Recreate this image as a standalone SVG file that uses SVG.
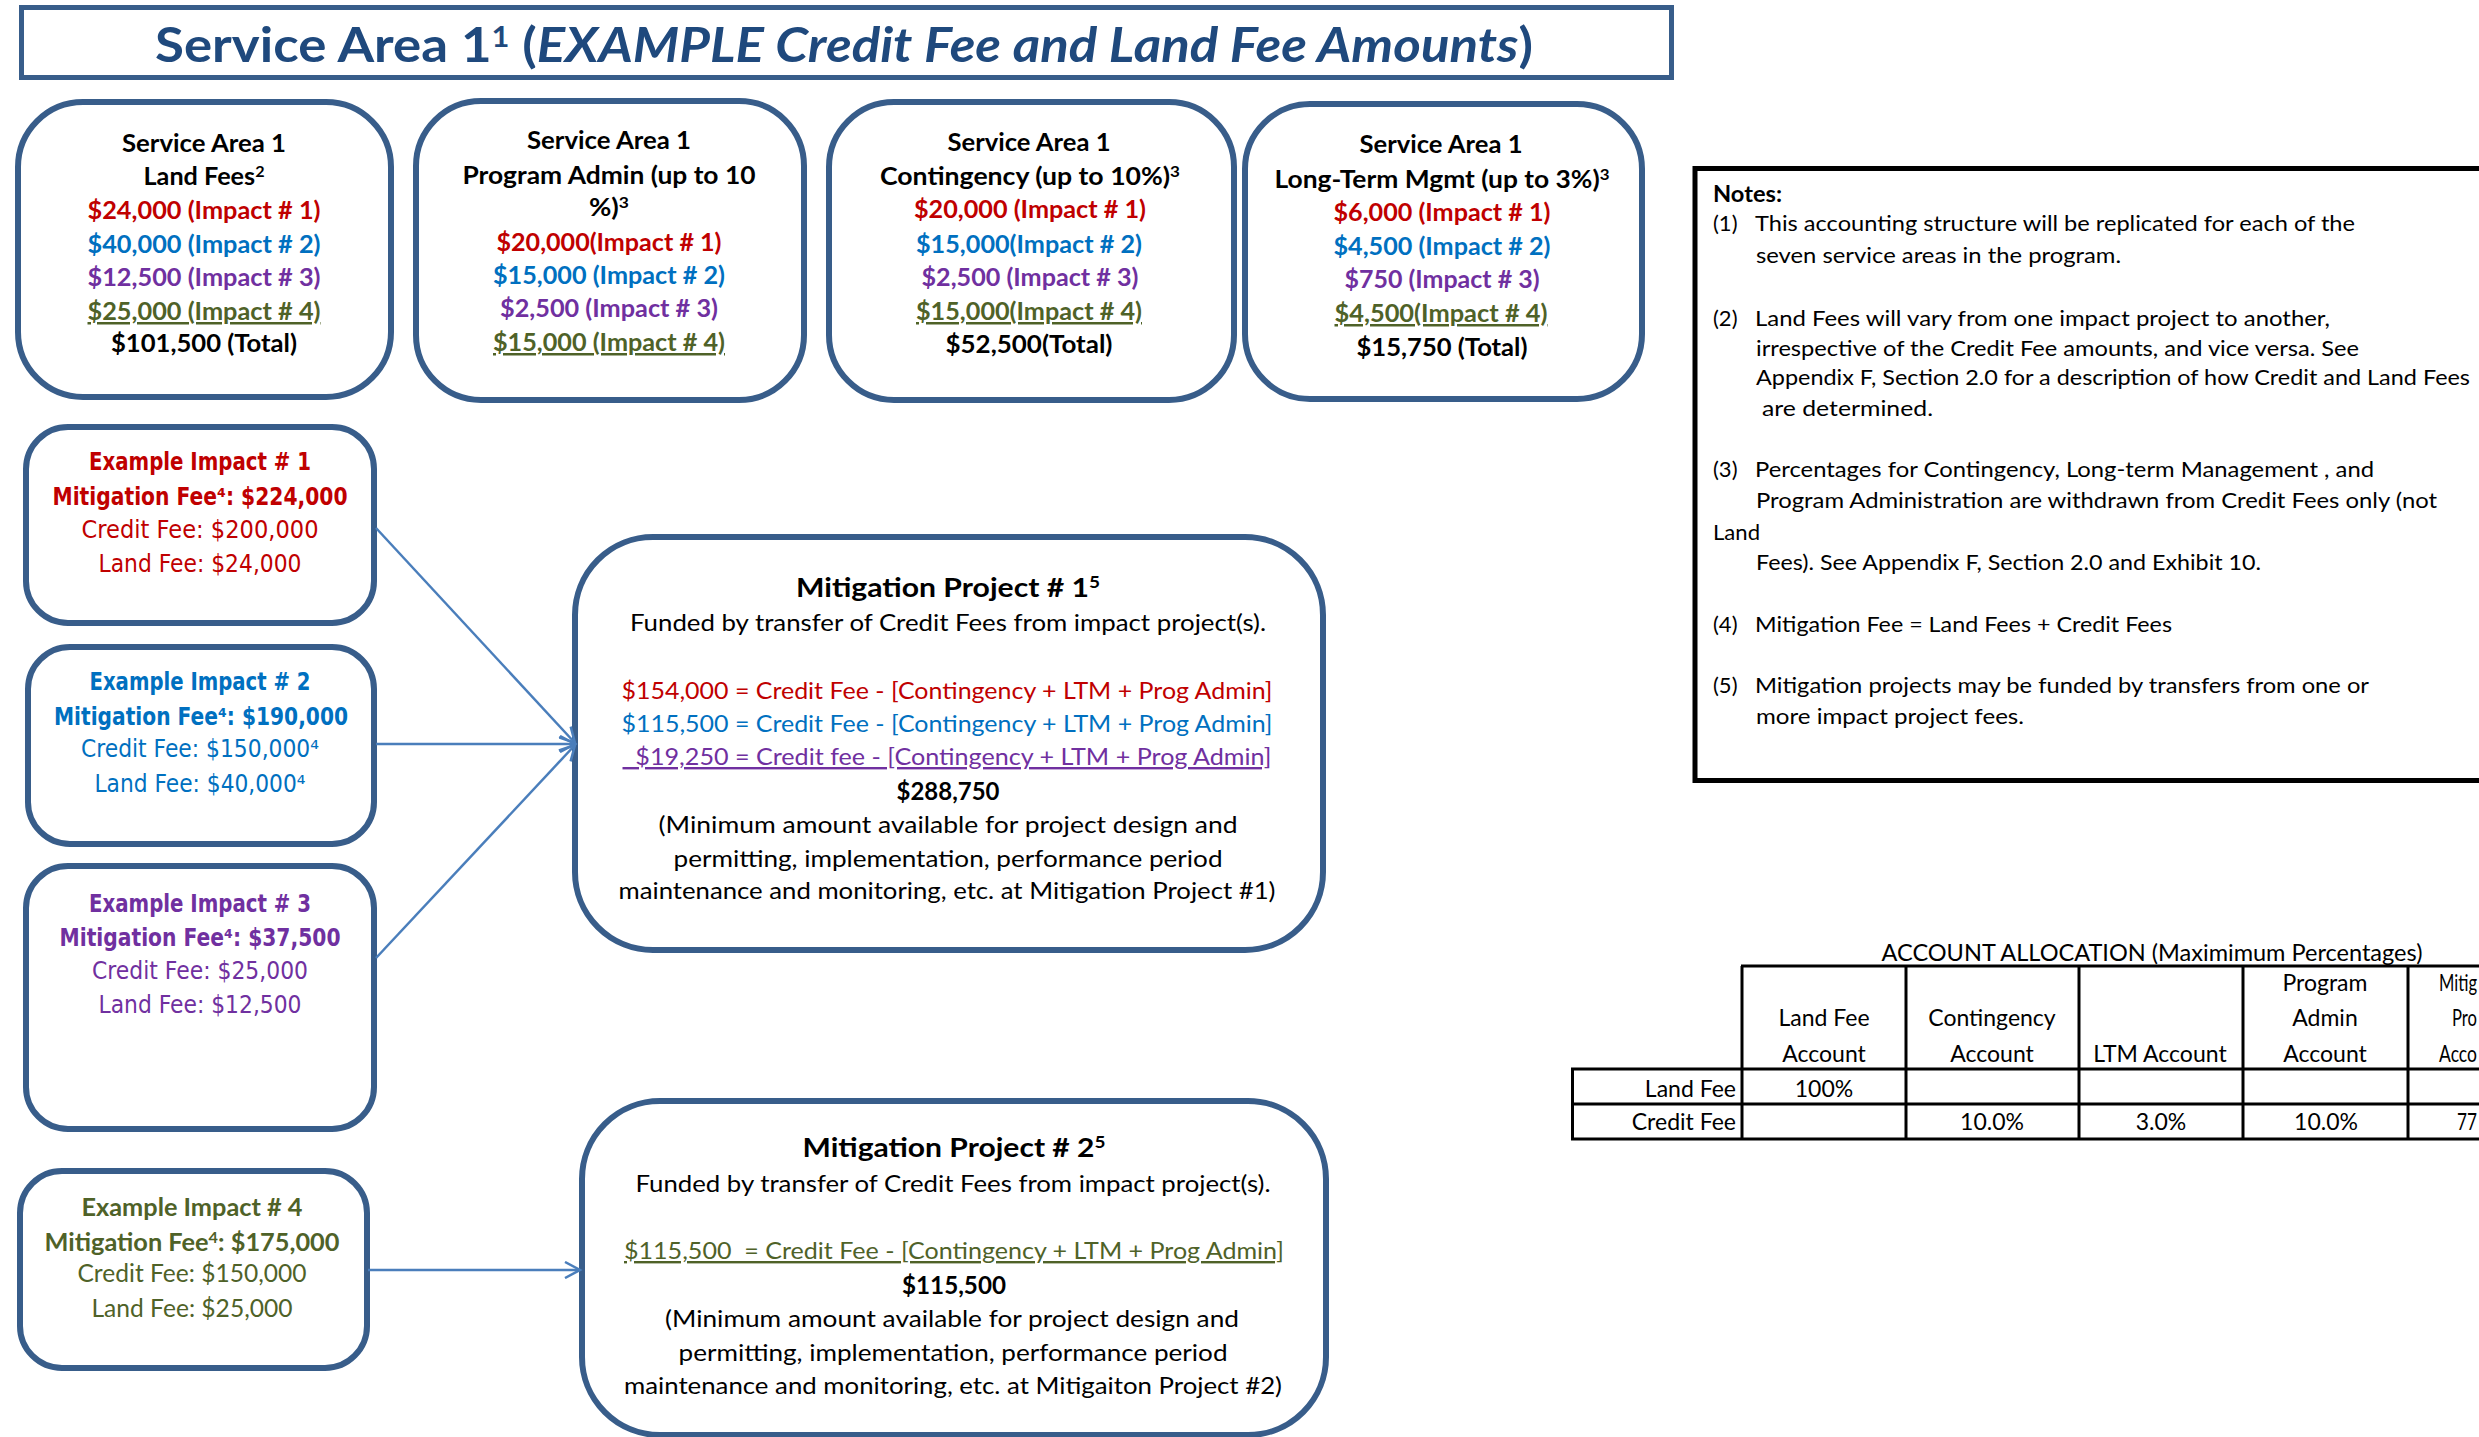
<svg xmlns="http://www.w3.org/2000/svg" width="2479" height="1437" viewBox="0 0 2479 1437">
<style>
.box{fill:#fff;stroke:#385D8A;stroke-width:6}
.c{font-family:Lato,"Liberation Sans",sans-serif;text-anchor:middle}
.l{font-family:Lato,"Liberation Sans",sans-serif}
.v{font-family:"DejaVu Sans",Verdana,sans-serif;text-anchor:middle}
.b{font-weight:bold}
.s25{font-size:25px}
.s24{font-size:24px}
.s22{font-size:22px}
.s23{font-size:23px}
.red{fill:#C00000}
.blu{fill:#0070C0}
.pur{fill:#7030A0}
.grn{fill:#4F6228}
.blk{fill:#000}
.u{text-decoration:underline}
.conn{stroke:#4A7EBB;stroke-width:2.5;fill:none;marker-end:url(#arr)}
.grid{stroke:#000;stroke-width:3}
</style>
<defs>
<marker id="arr" markerUnits="userSpaceOnUse" markerWidth="20" markerHeight="18" viewBox="0 0 18 18" refX="16" refY="9" orient="auto">
<path d="M1,1 L16,9 L1,17" fill="none" stroke="#4A7EBB" stroke-width="2.5"/>
</marker>
</defs>
<rect width="2479" height="1437" fill="#fff"/>

<g id="title">
<rect x="21.5" y="7.5" width="1650" height="70" fill="#fff" stroke="#385D8A" stroke-width="5"/>
<text x="155" y="62" class="l b" font-size="48" fill="#1F497D" textLength="1378" lengthAdjust="spacingAndGlyphs">Service Area 1<tspan baseline-shift="15" font-size="28">1</tspan> (<tspan font-style="italic">EXAMPLE Credit Fee and Land Fee Amounts</tspan>)</text>
</g>

<g id="sa1-land-fees">
<rect class="box" x="18" y="102" width="373" height="295" rx="65"/>
<text class="c b s25 blk" x="204" y="152" textLength="164" lengthAdjust="spacingAndGlyphs">Service Area 1</text>
<text class="c b s25 blk" x="204" y="185" textLength="121" lengthAdjust="spacingAndGlyphs">Land Fees<tspan baseline-shift="8" font-size="16">2</tspan></text>
<text class="c b s25 red" x="204" y="219" textLength="233" lengthAdjust="spacingAndGlyphs">$24,000 (Impact # 1)</text>
<text class="c b s25 blu" x="204" y="253" textLength="233" lengthAdjust="spacingAndGlyphs">$40,000 (Impact # 2)</text>
<text class="c b s25 pur" x="204" y="286" textLength="233" lengthAdjust="spacingAndGlyphs">$12,500 (Impact # 3)</text>
<text class="c b s25 grn u" x="204" y="320" textLength="233" lengthAdjust="spacingAndGlyphs">$25,000 (Impact # 4)</text>
<text class="c b s25 blk" x="204" y="352" textLength="186" lengthAdjust="spacingAndGlyphs">$101,500 (Total)</text>
</g>

<g id="sa1-program-admin">
<rect class="box" x="416" y="101" width="388" height="299" rx="65"/>
<text class="c b s25 blk" x="609" y="149" textLength="164" lengthAdjust="spacingAndGlyphs">Service Area 1</text>
<text class="c b s25 blk" x="609" y="184" textLength="293" lengthAdjust="spacingAndGlyphs">Program Admin (up to 10</text>
<text class="c b s25 blk" x="609" y="216" textLength="40" lengthAdjust="spacingAndGlyphs">%)<tspan baseline-shift="8" font-size="16">3</tspan></text>
<text class="c b s25 red" x="609" y="251" textLength="225" lengthAdjust="spacingAndGlyphs">$20,000(Impact # 1)</text>
<text class="c b s25 blu" x="609" y="284" textLength="232" lengthAdjust="spacingAndGlyphs">$15,000 (Impact # 2)</text>
<text class="c b s25 pur" x="609" y="317" textLength="218" lengthAdjust="spacingAndGlyphs">$2,500 (Impact # 3)</text>
<text class="c b s25 grn u" x="609" y="351" textLength="232" lengthAdjust="spacingAndGlyphs">$15,000 (Impact # 4)</text>
</g>

<g id="sa1-contingency">
<rect class="box" x="829" y="102" width="405" height="298" rx="65"/>
<text class="c b s25 blk" x="1029" y="151" textLength="163" lengthAdjust="spacingAndGlyphs">Service Area 1</text>
<text class="c b s25 blk" x="1030" y="185" textLength="300" lengthAdjust="spacingAndGlyphs">Contingency  (up to 10%)<tspan baseline-shift="8" font-size="16">3</tspan></text>
<text class="c b s25 red" x="1030" y="218" textLength="232" lengthAdjust="spacingAndGlyphs">$20,000 (Impact # 1)</text>
<text class="c b s25 blu" x="1029" y="253" textLength="226" lengthAdjust="spacingAndGlyphs">$15,000(Impact # 2)</text>
<text class="c b s25 pur" x="1030" y="286" textLength="217" lengthAdjust="spacingAndGlyphs">$2,500 (Impact # 3)</text>
<text class="c b s25 grn u" x="1029" y="320" textLength="226" lengthAdjust="spacingAndGlyphs">$15,000(Impact # 4)</text>
<text class="c b s25 blk" x="1029" y="353" textLength="167" lengthAdjust="spacingAndGlyphs">$52,500(Total)</text>
</g>

<g id="sa1-long-term-mgmt">
<rect class="box" x="1245" y="104" width="397" height="295" rx="65"/>
<text class="c b s25 blk" x="1441" y="153" textLength="163" lengthAdjust="spacingAndGlyphs">Service Area 1</text>
<text class="c b s25 blk" x="1442" y="188" textLength="335" lengthAdjust="spacingAndGlyphs">Long-Term Mgmt (up to 3%)<tspan baseline-shift="8" font-size="16">3</tspan></text>
<text class="c b s25 red" x="1442" y="221" textLength="217" lengthAdjust="spacingAndGlyphs">$6,000 (Impact # 1)</text>
<text class="c b s25 blu" x="1442" y="255" textLength="217" lengthAdjust="spacingAndGlyphs">$4,500 (Impact # 2)</text>
<text class="c b s25 pur" x="1442" y="288" textLength="195" lengthAdjust="spacingAndGlyphs">$750 (Impact # 3)</text>
<text class="c b s25 grn u" x="1441" y="322" textLength="213" lengthAdjust="spacingAndGlyphs">$4,500(Impact # 4)</text>
<text class="c b s25 blk" x="1442" y="356" textLength="171" lengthAdjust="spacingAndGlyphs">$15,750 (Total)</text>
</g>

<g id="notes">
<rect x="1695" y="168.5" width="900" height="612" fill="#fff" stroke="#000" stroke-width="5"/>
<g class="l s22 blk">
<text class="b" x="1713" y="202" textLength="69" lengthAdjust="spacingAndGlyphs">Notes:</text>
<text x="1713" y="231">(1)</text>
<text x="1755" y="231" textLength="600" lengthAdjust="spacingAndGlyphs">This accounting structure will be replicated for each of the</text>
<text x="1756" y="263" textLength="365" lengthAdjust="spacingAndGlyphs">seven service areas in the program.</text>
<text x="1713" y="326">(2)</text>
<text x="1755" y="326" textLength="575" lengthAdjust="spacingAndGlyphs">Land Fees will vary from one impact project to another,</text>
<text x="1756" y="356" textLength="603" lengthAdjust="spacingAndGlyphs">irrespective of the Credit Fee amounts, and vice versa. See</text>
<text x="1756" y="385" textLength="714" lengthAdjust="spacingAndGlyphs">Appendix F, Section 2.0 for a description of how Credit and Land Fees</text>
<text x="1762" y="416" textLength="171" lengthAdjust="spacingAndGlyphs">are determined.</text>
<text x="1713" y="477">(3)</text>
<text x="1755" y="477" textLength="619" lengthAdjust="spacingAndGlyphs">Percentages for Contingency, Long-term Management , and</text>
<text x="1756" y="508" textLength="681" lengthAdjust="spacingAndGlyphs">Program Administration are withdrawn from Credit Fees only (not</text>
<text x="1713" y="540" textLength="47" lengthAdjust="spacingAndGlyphs">Land</text>
<text x="1756" y="570" textLength="505" lengthAdjust="spacingAndGlyphs">Fees). See Appendix F, Section 2.0 and Exhibit 10.</text>
<text x="1713" y="632">(4)</text>
<text x="1755" y="632" textLength="417" lengthAdjust="spacingAndGlyphs">Mitigation Fee = Land Fees + Credit Fees</text>
<text x="1713" y="693">(5)</text>
<text x="1755" y="693" textLength="614" lengthAdjust="spacingAndGlyphs">Mitigation projects may be funded by transfers from one or</text>
<text x="1756" y="724" textLength="268" lengthAdjust="spacingAndGlyphs">more impact project fees.</text>
</g>
</g>

<g id="impact-1">
<rect class="box" x="26" y="427" width="348" height="196" rx="42"/>
<text class="v b red" font-size="24" x="200" y="470" textLength="222" lengthAdjust="spacingAndGlyphs">Example Impact # 1</text>
<text class="v b red" font-size="24" x="200" y="505" textLength="295" lengthAdjust="spacingAndGlyphs">Mitigation Fee⁴: $224,000</text>
<text class="v red" font-size="24" x="200" y="538" textLength="237" lengthAdjust="spacingAndGlyphs">Credit Fee:  $200,000</text>
<text class="v red" font-size="24" x="200" y="572" textLength="203" lengthAdjust="spacingAndGlyphs">Land Fee: $24,000</text>
</g>

<g id="impact-2">
<rect class="box" x="28" y="647" width="346" height="197" rx="42"/>
<text class="v b blu" font-size="24" x="200" y="690" textLength="221" lengthAdjust="spacingAndGlyphs">Example Impact # 2</text>
<text class="v b blu" font-size="24" x="201" y="725" textLength="294" lengthAdjust="spacingAndGlyphs">Mitigation Fee⁴: $190,000</text>
<text class="v blu" font-size="24" x="200" y="757" textLength="238" lengthAdjust="spacingAndGlyphs">Credit Fee: $150,000⁴</text>
<text class="v blu" font-size="24" x="200" y="792" textLength="211" lengthAdjust="spacingAndGlyphs">Land Fee: $40,000⁴</text>
</g>

<g id="impact-3">
<rect class="box" x="26" y="866" width="348" height="263" rx="42"/>
<text class="v b pur" font-size="24" x="200" y="912" textLength="222" lengthAdjust="spacingAndGlyphs">Example Impact # 3</text>
<text class="v b pur" font-size="24" x="200" y="946" textLength="281" lengthAdjust="spacingAndGlyphs">Mitigation Fee⁴: $37,500</text>
<text class="v pur" font-size="24" x="200" y="979" textLength="216" lengthAdjust="spacingAndGlyphs">Credit Fee: $25,000</text>
<text class="v pur" font-size="24" x="200" y="1013" textLength="203" lengthAdjust="spacingAndGlyphs">Land Fee: $12,500</text>
</g>

<g id="impact-4">
<rect class="box" x="20" y="1171" width="347" height="197" rx="42"/>
<text class="c b s25 grn" x="192" y="1216" textLength="221" lengthAdjust="spacingAndGlyphs">Example Impact # 4</text>
<text class="c b s25 grn" x="192" y="1251" textLength="295" lengthAdjust="spacingAndGlyphs">Mitigation Fee<tspan baseline-shift="8" font-size="16">4</tspan>: $175,000</text>
<text class="c s25 grn" x="192" y="1282" textLength="229" lengthAdjust="spacingAndGlyphs">Credit Fee: $150,000</text>
<text class="c s25 grn" x="192" y="1317" textLength="201" lengthAdjust="spacingAndGlyphs">Land Fee: $25,000</text>
</g>

<g id="mitigation-project-1">
<rect class="box" x="575" y="537" width="748" height="413" rx="78"/>
<text class="c b blk" font-size="27" x="948" y="597" textLength="304" lengthAdjust="spacingAndGlyphs">Mitigation Project # 1<tspan baseline-shift="9" font-size="17">5</tspan></text>
<text class="c s24 blk" x="948" y="631" textLength="636" lengthAdjust="spacingAndGlyphs">Funded by transfer of Credit Fees from impact project(s).</text>
<text class="c s24 red" x="947" y="699" textLength="651" lengthAdjust="spacingAndGlyphs">$154,000 = Credit Fee - [Contingency + LTM + Prog Admin]</text>
<text class="c s24 blu" x="947" y="732" textLength="651" lengthAdjust="spacingAndGlyphs">$115,500 = Credit Fee - [Contingency + LTM + Prog Admin]</text>
<text class="c s24 pur u" x="947" y="765" textLength="649" lengthAdjust="spacingAndGlyphs" style="white-space:pre">  $19,250 = Credit fee - [Contingency + LTM + Prog Admin]</text>
<text class="c b s24 blk" x="948" y="800" textLength="103" lengthAdjust="spacingAndGlyphs">$288,750</text>
<text class="c s24 blk" x="948" y="833" textLength="579" lengthAdjust="spacingAndGlyphs">(Minimum amount available for  project  design and</text>
<text class="c s24 blk" x="948" y="867" textLength="549" lengthAdjust="spacingAndGlyphs">permitting, implementation, performance period</text>
<text class="c s24 blk" x="947" y="899" textLength="657" lengthAdjust="spacingAndGlyphs">maintenance and monitoring, etc. at Mitigation Project #1)</text>
</g>

<g id="mitigation-project-2">
<rect class="box" x="582" y="1101" width="744" height="334" rx="78"/>
<text class="c b blk" font-size="27" x="954" y="1157" textLength="303" lengthAdjust="spacingAndGlyphs">Mitigation Project # 2<tspan baseline-shift="9" font-size="17">5</tspan></text>
<text class="c s24 blk" x="953" y="1192" textLength="635" lengthAdjust="spacingAndGlyphs">Funded by transfer of Credit Fees from impact project(s).</text>
<text class="c s24 grn u" x="954" y="1259" textLength="660" lengthAdjust="spacingAndGlyphs" style="white-space:pre">$115,500  = Credit Fee - [Contingency + LTM + Prog Admin]</text>
<text class="c b s24 blk" x="954" y="1294" textLength="104" lengthAdjust="spacingAndGlyphs">$115,500</text>
<text class="c s24 blk" x="952" y="1327" textLength="574" lengthAdjust="spacingAndGlyphs">(Minimum amount available for project  design and</text>
<text class="c s24 blk" x="953" y="1361" textLength="549" lengthAdjust="spacingAndGlyphs">permitting, implementation, performance period</text>
<text class="c s24 blk" x="953" y="1394" textLength="658" lengthAdjust="spacingAndGlyphs">maintenance and monitoring, etc. at Mitigaiton Project #2)</text>
</g>

<g id="connectors">
<line class="conn" x1="376" y1="528" x2="575" y2="743"/>
<line class="conn" x1="376" y1="744" x2="575" y2="744"/>
<line class="conn" x1="376" y1="958" x2="575" y2="745"/>
<line class="conn" x1="368" y1="1270" x2="580" y2="1270"/>
</g>

<g id="account-allocation-table">
<text class="c s23 blk" x="2152" y="961" textLength="541" lengthAdjust="spacingAndGlyphs">ACCOUNT ALLOCATION (Maximimum Percentages)</text>
<line class="grid" x1="1741" y1="966" x2="2479" y2="966"/>
<line class="grid" x1="1571" y1="1069" x2="2479" y2="1069"/>
<line class="grid" x1="1571" y1="1104" x2="2479" y2="1104"/>
<line class="grid" x1="1571" y1="1139" x2="2479" y2="1139"/>
<line class="grid" x1="1572.5" y1="1069" x2="1572.5" y2="1139"/>
<line class="grid" x1="1742" y1="966" x2="1742" y2="1139"/>
<line class="grid" x1="1906" y1="966" x2="1906" y2="1139"/>
<line class="grid" x1="2079" y1="966" x2="2079" y2="1139"/>
<line class="grid" x1="2243" y1="966" x2="2243" y2="1139"/>
<line class="grid" x1="2408" y1="966" x2="2408" y2="1139"/>
<g class="c s23 blk">
<text x="1824" y="1026">Land Fee</text>
<text x="1824" y="1062">Account</text>
<text x="1992" y="1026">Contingency</text>
<text x="1992" y="1062">Account</text>
<text x="2160" y="1062">LTM Account</text>
<text x="2325" y="991">Program</text>
<text x="2325" y="1026">Admin</text>
<text x="2325" y="1062">Account</text>
<text x="1824" y="1097">100%</text>
<text x="1992" y="1130">10.0%</text>
<text x="2161" y="1130">3.0%</text>
<text x="2326" y="1130">10.0%</text>
</g>
<g class="l s23 blk">
<text x="2477" y="991" text-anchor="end" textLength="38" lengthAdjust="spacingAndGlyphs">Mitig</text>
<text x="2477" y="1026" text-anchor="end" textLength="25" lengthAdjust="spacingAndGlyphs">Pro</text>
<text x="2477" y="1062" text-anchor="end" textLength="38" lengthAdjust="spacingAndGlyphs">Acco</text>
<text x="2477" y="1130" text-anchor="end" textLength="20" lengthAdjust="spacingAndGlyphs">77</text>
<text x="1736" y="1097" text-anchor="end">Land Fee</text>
<text x="1736" y="1130" text-anchor="end">Credit Fee</text>
</g>
</g>
</svg>
